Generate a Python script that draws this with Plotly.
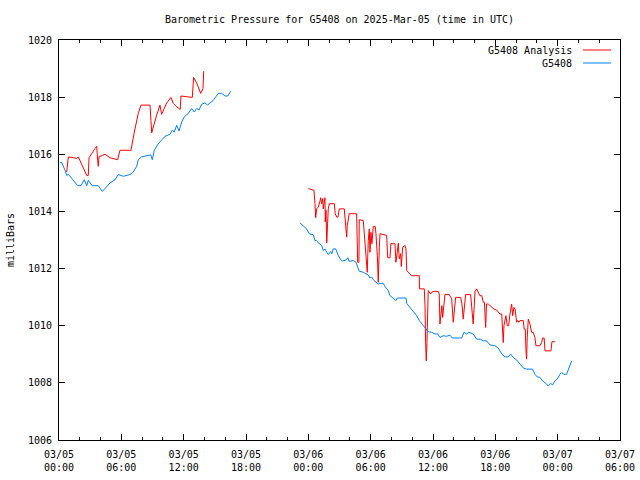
import pandas as pd
import plotly.graph_objects as go

START = "2025-03-05 00:00"
TITLE = "Barometric Pressure for G5408 on 2025-Mar-05 (time in UTC)"
Y_LABEL = "milliBars"
NAMES = ["G5408 Analysis", "G5408"]
COLORS = ["#ff0000", "#0080ff"]
Y_TICKS = [1006, 1008, 1010, 1012, 1014, 1016, 1018, 1020]

# Hours since start, pressure (mb)
analysis_h1 = [0.74, 0.90, 1.38, 1.70, 1.86, 2.67, 2.82, 2.89, 3.46, 3.63, 3.72, 3.78, 3.85, 4.11, 4.43,
               4.91, 5.23, 5.65, 5.87, 6.93, 7.25, 7.63, 7.89, 8.76, 8.85, 8.92, 9.40, 9.72, 9.88, 10.37,
               10.78, 11.00, 11.33, 11.67, 11.74, 12.83, 12.96, 13.25, 13.64, 13.86, 13.93]
analysis_p1 = [1015.38, 1015.91, 1015.88, 1015.85, 1015.91, 1015.26, 1015.26, 1015.88, 1016.20, 1016.28,
               1015.79, 1015.58, 1015.91, 1015.96, 1016.00, 1015.88, 1015.84, 1015.81, 1016.14, 1016.14,
               1016.78, 1017.43, 1017.72, 1017.72, 1017.19, 1016.75, 1017.37, 1017.72, 1017.40, 1017.80,
               1017.99, 1017.78, 1017.66, 1017.57, 1018.04, 1017.99, 1018.69, 1018.50, 1018.13, 1018.30,
               1018.91]

analysis_h2 = [24.00, 24.32, 24.54, 24.64, 24.71, 24.80, 24.96, 25.12, 25.19, 25.28, 25.38, 25.44, 25.60,
               25.63, 25.70, 25.77, 25.82, 25.92, 26.02, 26.50, 26.59, 26.73, 26.85, 26.98, 27.46, 27.56,
               27.69, 27.75, 27.94, 28.65, 28.75, 28.87, 28.90, 29.29, 29.45, 29.67, 29.77, 29.87, 29.93,
               30.03, 30.12, 30.25, 30.44, 30.51, 30.64, 30.73, 30.83, 30.90, 31.54, 31.64, 31.86, 31.95,
               32.34, 32.43, 32.56, 32.66, 32.75, 32.89, 32.95, 33.08, 33.30, 33.40, 33.47, 33.95, 34.68,
               34.70, 35.16, 35.23, 35.29, 35.35, 35.42, 35.48, 35.54, 35.78, 35.97, 36.51, 36.60, 36.67,
               36.77, 36.85, 36.93, 37.05, 37.15, 37.56, 37.80, 37.95, 38.05, 38.18, 38.66, 38.79, 38.91,
               39.01, 39.14, 39.62, 39.72, 39.87, 39.97, 40.04, 40.20, 40.36, 40.52, 40.70, 40.84, 40.95,
               41.07, 41.15, 41.32, 41.50, 41.70, 41.87, 42.13, 42.28, 42.44, 42.62, 42.70, 42.76, 42.83,
               43.02, 43.15, 43.28, 43.41, 43.57, 43.67, 43.79, 43.90, 43.98, 44.05, 44.15, 44.27, 44.37,
               44.68, 44.78, 44.88, 44.95, 45.01, 45.07, 45.17, 45.33, 45.49, 45.65, 45.81, 45.91, 46.29,
               46.46, 46.55, 46.70, 46.78, 47.35, 47.45, 47.74]
analysis_p2 = [1014.80, 1014.77, 1014.74, 1014.27, 1013.78, 1014.09, 1014.15, 1014.36, 1014.48, 1014.27,
               1014.45, 1014.09, 1014.48, 1013.63, 1014.04, 1012.90, 1013.57, 1014.09, 1014.27, 1014.27,
               1013.92, 1013.80, 1013.80, 1014.09, 1014.09, 1013.51, 1013.10, 1013.51, 1013.92, 1013.92,
               1012.22, 1012.22, 1013.71, 1013.68, 1013.04, 1011.87, 1012.98, 1013.39, 1012.57, 1013.27,
               1012.87, 1013.47, 1013.47, 1013.22, 1012.46, 1011.52, 1012.75, 1013.22, 1013.16, 1012.38,
               1012.38, 1012.87, 1012.87, 1012.22, 1012.57, 1012.89, 1012.34, 1012.52, 1012.07, 1012.75,
               1012.81, 1012.69, 1011.93, 1011.75, 1011.75, 1011.29, 1011.29, 1010.70, 1009.41, 1008.77,
               1009.41, 1010.70, 1011.23, 1011.11, 1011.20, 1011.20, 1011.11, 1010.06, 1010.64, 1010.70,
               1010.29, 1010.88, 1011.09, 1011.09, 1010.94, 1010.12, 1010.53, 1010.99, 1010.99, 1010.76,
               1010.23, 1010.70, 1011.09, 1011.09, 1010.64, 1010.06, 1010.70, 1011.20, 1011.29, 1011.17,
               1011.05, 1011.05, 1010.82, 1010.82, 1009.94, 1010.76, 1010.76, 1010.70, 1010.64, 1010.58,
               1010.55, 1010.47, 1010.41, 1010.41, 1010.00, 1009.41, 1010.00, 1010.35, 1010.00, 1010.00,
               1010.41, 1010.76, 1010.35, 1010.64, 1010.58, 1010.29, 1010.12, 1010.18, 1010.12, 1010.18,
               1010.18, 1009.88, 1009.88, 1009.12, 1008.83, 1009.59, 1010.23, 1010.06, 1009.77, 1009.77,
               1009.59, 1009.30, 1009.30, 1009.41, 1009.57, 1009.57, 1009.12, 1009.12, 1009.44, 1009.44]

obs_h1 = [0.10, 0.26, 0.58, 0.74, 0.90, 1.22, 1.54, 1.80, 2.12, 2.43, 2.67, 2.82, 3.00, 3.20, 3.78,
          4.17, 4.43, 4.91, 5.39, 5.71, 6.19, 6.50, 6.83, 7.15, 7.48, 7.63, 7.96, 8.44, 8.83, 8.98,
          9.17, 9.56, 9.88, 10.20, 10.68, 10.90, 11.10, 11.33, 11.55, 11.81, 12.06, 12.44, 12.77,
          13.02, 13.25, 13.48, 13.73, 14.05, 14.30, 14.55, 14.85, 15.33, 15.66, 15.98, 16.25, 16.53]
obs_p1 = [1015.71, 1015.71, 1015.44, 1015.26, 1015.30, 1015.15, 1015.03, 1014.90, 1014.90, 1015.11,
          1014.90, 1015.09, 1015.00, 1014.90, 1014.90, 1014.70, 1014.80, 1015.00, 1015.11, 1015.29,
          1015.23, 1015.26, 1015.29, 1015.38, 1015.58, 1015.81, 1015.91, 1015.95, 1015.98, 1015.81,
          1016.14, 1016.37, 1016.49, 1016.63, 1016.70, 1016.84, 1016.78, 1017.02, 1016.82, 1017.13,
          1017.31, 1017.43, 1017.60, 1017.48, 1017.60, 1017.55, 1017.75, 1017.80, 1017.72, 1017.80,
          1017.89, 1018.13, 1018.13, 1018.04, 1018.04, 1018.21]

obs_h2 = [23.19, 23.51, 23.84, 24.09, 24.48, 24.64, 24.80, 24.96, 25.28, 25.44, 25.60, 25.77, 25.92,
          26.15, 26.25, 26.40, 26.63, 26.88, 27.11, 27.31, 27.69, 27.80, 27.94, 28.33, 28.59, 28.75,
          28.90, 29.29, 29.55, 29.75, 29.93, 30.10, 30.32, 30.51, 30.73, 31.00, 31.21, 31.38, 31.69,
          31.86, 32.17, 32.43, 32.55, 32.82, 33.40, 33.47, 33.78, 34.17, 34.43, 34.68, 35.06, 35.23,
          35.54, 35.87, 36.19, 36.45, 36.67, 36.99, 37.30, 37.63, 37.85, 38.76, 38.98, 39.24, 39.45,
          39.87, 40.20, 40.55, 40.84, 41.15, 41.48, 41.96, 42.28, 42.61, 42.93, 43.24, 43.47, 43.72,
          44.05, 44.37, 44.69, 45.01, 45.59, 45.81, 46.03, 46.29, 46.55, 46.87, 47.09, 47.32, 47.52,
          47.74, 47.96, 48.22, 48.38, 48.60, 48.86, 49.09, 49.25, 49.35]
obs_p2 = [1013.60, 1013.51, 1013.39, 1013.22, 1013.18, 1012.98, 1012.98, 1012.90, 1012.81, 1012.63,
          1012.69, 1012.57, 1012.49, 1012.60, 1012.52, 1012.69, 1012.69, 1012.46, 1012.31, 1012.26,
          1012.31, 1012.38, 1012.25, 1012.28, 1012.22, 1012.05, 1011.91, 1011.87, 1011.81, 1011.78,
          1011.67, 1011.70, 1011.58, 1011.52, 1011.46, 1011.49, 1011.48, 1011.37, 1011.23, 1011.05,
          1010.97, 1010.88, 1010.97, 1010.97, 1010.97, 1010.78, 1010.64, 1010.47, 1010.35, 1010.18,
          1010.00, 1009.96, 1009.79, 1009.77, 1009.71, 1009.71, 1009.59, 1009.65, 1009.63, 1009.67,
          1009.57, 1009.57, 1009.77, 1009.71, 1009.77, 1009.71, 1009.53, 1009.53, 1009.47, 1009.47,
          1009.33, 1009.30, 1009.22, 1009.01, 1008.91, 1008.91, 1009.01, 1008.89, 1008.80, 1008.66,
          1008.52, 1008.48, 1008.48, 1008.30, 1008.21, 1008.19, 1008.07, 1007.98, 1007.89, 1007.98,
          1007.93, 1008.07, 1008.13, 1008.30, 1008.36, 1008.30, 1008.30, 1008.52, 1008.66, 1008.77]

base = pd.Timestamp(START)


def series(h1, p1, h2, p2):
    hrs = list(h1) + [None] + list(h2)
    x = [None if h is None else base + pd.Timedelta(hours=h) for h in hrs]
    y = list(p1) + [None] + list(p2)
    return x, y


FONT = "DejaVu Sans Mono, Liberation Mono, monospace"

fig = go.Figure()
for (h1, p1, h2, p2), name, col in zip(
        [(analysis_h1, analysis_p1, analysis_h2, analysis_p2), (obs_h1, obs_p1, obs_h2, obs_p2)],
        NAMES, COLORS):
    x, y = series(h1, p1, h2, p2)
    fig.add_trace(go.Scatter(x=x, y=y, mode="lines", name=name,
                             line=dict(color=col, width=1), connectgaps=False,
                             showlegend=False))

# gnuplot-style legend: text on the left, sample line to its right
legend_y = [0.975, 0.9425]
for name, col, ly in zip(NAMES, COLORS, legend_y):
    fig.add_annotation(xref="paper", yref="paper", x=0.918, y=ly, text=name,
                       showarrow=False, xanchor="right", yanchor="middle",
                       font=dict(family=FONT, size=10, color="black"))
    fig.add_shape(type="line", xref="paper", yref="paper", x0=0.934, x1=0.984, y0=ly, y1=ly,
                  line=dict(color=col, width=1))

end = base + pd.Timedelta(hours=54)
fig.update_layout(
    width=640, height=480,
    margin=dict(l=59, r=20, t=40, b=40, autoexpand=False),
    paper_bgcolor="white", plot_bgcolor="white",
    font=dict(family=FONT, size=10, color="black"),
    title=dict(text=TITLE, x=(59 + 620) / 2 / 640, xanchor="center", y=1 - 19 / 480, yanchor="middle",
               font=dict(family=FONT, size=10, color="black")),
    xaxis=dict(type="date", range=[base, end], tick0=base, dtick=6 * 3600 * 1000,
               tickformat="%m/%d<br>%H:%M", ticks="inside", ticklen=6, tickcolor="black",
               ticklabelstandoff=5, automargin=False,
               showline=True, linecolor="black", linewidth=1, mirror="allticks",
               showgrid=False, zeroline=False,
               minor=dict(dtick=2 * 3600 * 1000, ticks="inside", ticklen=3, tickcolor="black",
                          showgrid=False)),
    yaxis=dict(range=[1006, 1020], tickvals=Y_TICKS, ticks="inside", ticklen=6, tickcolor="black",
               ticklabelstandoff=4, automargin=False,
               showline=True, linecolor="black", linewidth=1, mirror="allticks",
               showgrid=False, zeroline=False,
               title=dict(text=Y_LABEL, standoff=11, font=dict(family=FONT, size=10))),
)

fig.write_html("out.html", config={"displayModeBar": False},
               post_script="document.body.style.margin='0px';")
